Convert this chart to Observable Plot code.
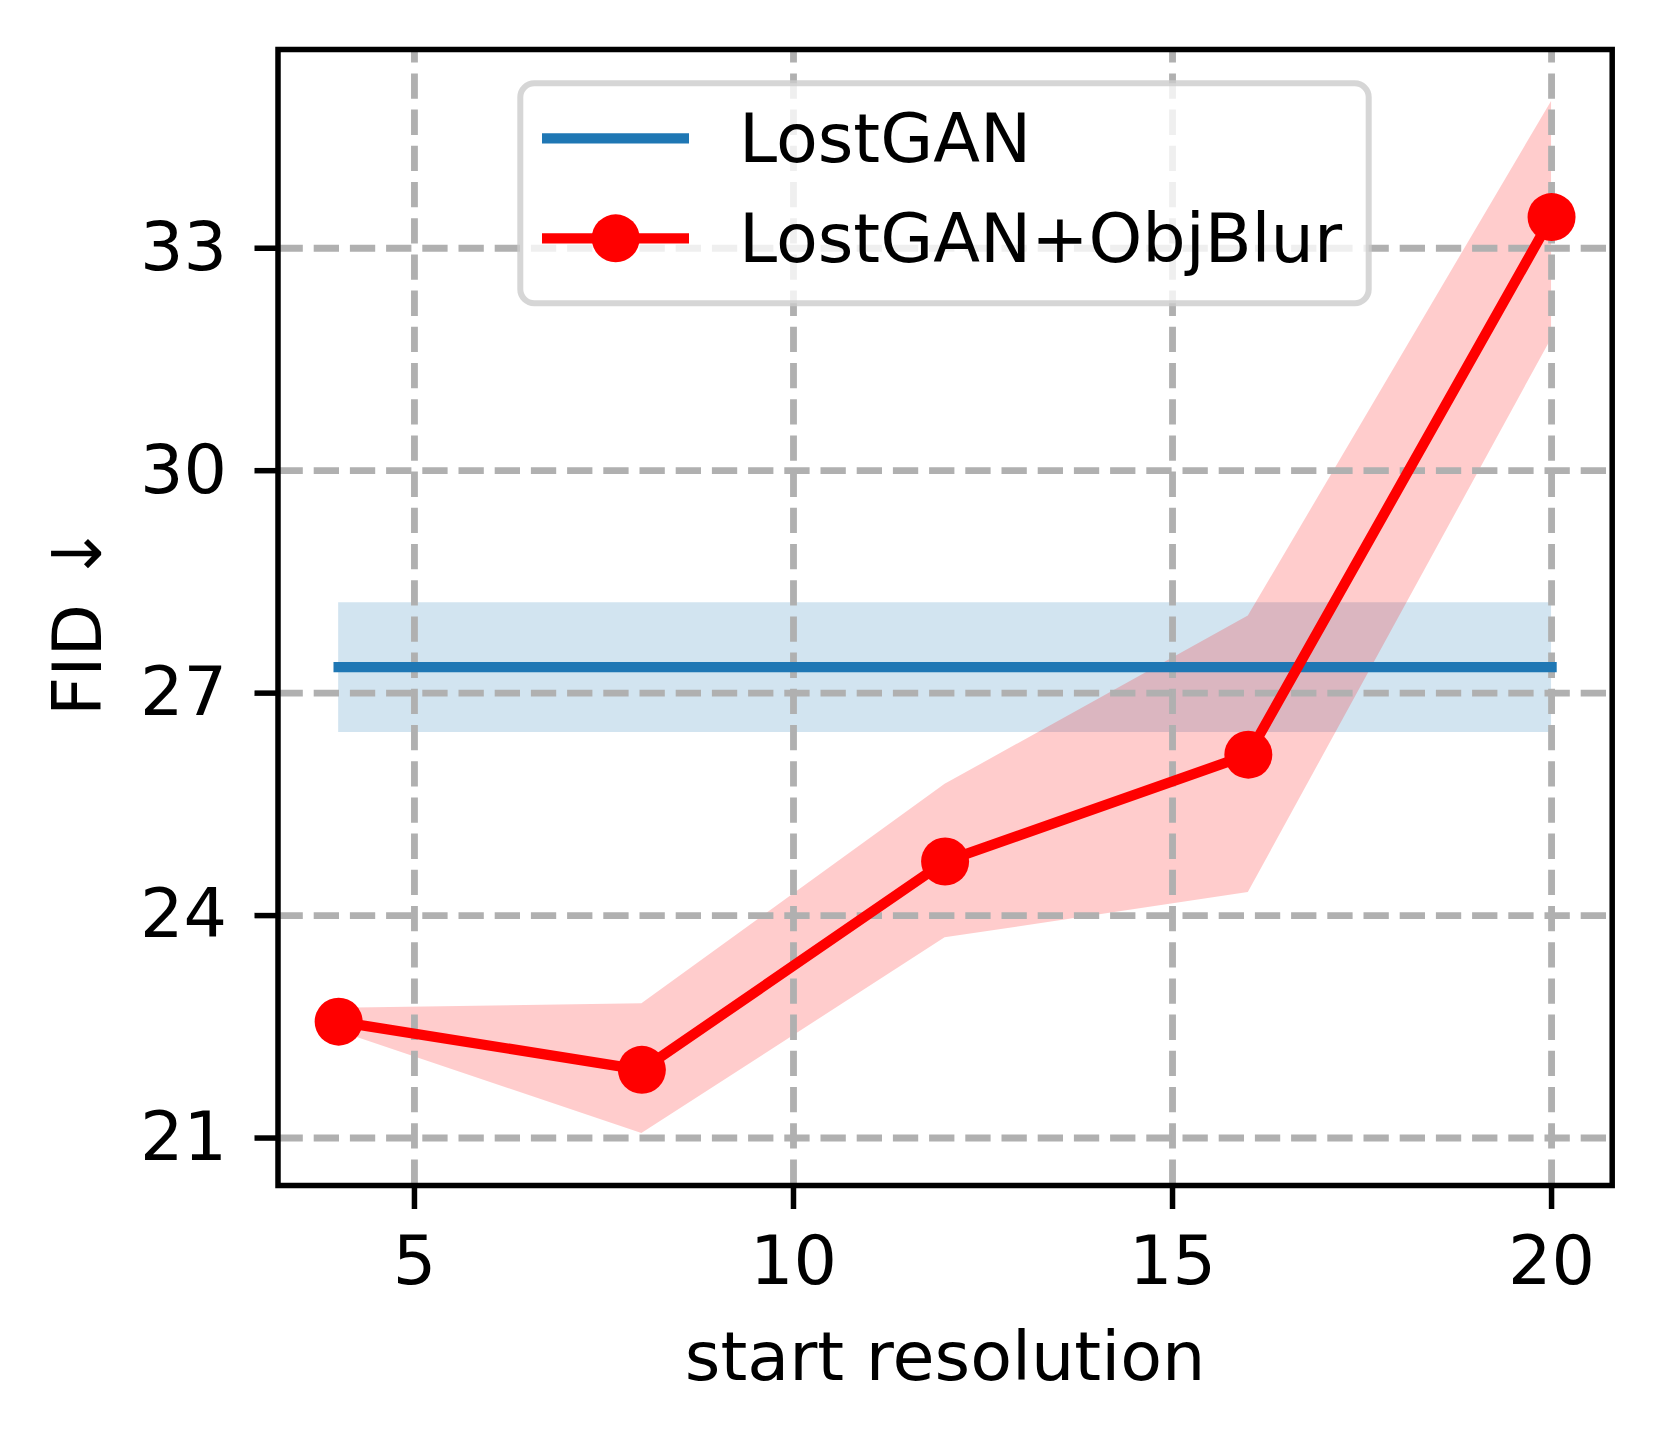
<!DOCTYPE html>
<html>
<head>
<meta charset="utf-8">
<script src="https://cdn.jsdelivr.net/npm/d3@7"></script>
<script src="https://cdn.jsdelivr.net/npm/@observablehq/plot@0.6"></script>
<style>
  html, body { margin: 0; padding: 0; background: white; }
  #chart svg { display: block; }
</style>
</head>
<body>
<div id="chart"></div>
<script>
// ---- data ----
const startResolution = [4, 8, 12, 16, 20];
const objBlurMean = [22.57, 21.92, 24.73, 26.17, 33.42];
const objBlurLow  = [22.44, 21.06, 23.70, 24.31, 31.78];
const objBlurHigh = [22.75, 22.81, 25.77, 28.04, 34.98];
const lostganMean = [27.35, 27.35, 27.35, 27.35, 27.35];
const lostganLow  = [26.47, 26.47, 26.47, 26.47, 26.47];
const lostganHigh = [28.22, 28.22, 28.22, 28.22, 28.22];
const xTicks = [5, 10, 15, 20];
const yTicks = [21, 24, 27, 30, 33];
const seriesNames = ["LostGAN", "LostGAN+ObjBlur"];
const seriesColors = ["#1f77b4", "#ff0000"];
const xLabel = "start resolution";
const yLabel = "FID ↓";

const objData = startResolution.map((x, i) => ({x, mean: objBlurMean[i], low: objBlurLow[i], high: objBlurHigh[i]}));
const lostData = startResolution.map((x, i) => ({x, mean: lostganMean[i], low: lostganLow[i], high: lostganHigh[i]}));

const FS = 68.4;
const gridStyle = {stroke: "#b0b0b0", strokeOpacity: 1, strokeWidth: 6.84, strokeDasharray: "25.3,10.9"};

const chart = Plot.plot({
  width: 1661,
  height: 1442,
  marginLeft: 277.5,
  marginRight: 49.3,
  marginTop: 49,
  marginBottom: 257,
  x: {domain: [3.2, 20.8]},
  y: {domain: [20.36, 35.68]},
  style: {fontFamily: "DejaVu Sans", fontSize: FS + "px", background: "white", color: "black"},
  marks: [
    Plot.areaY(lostData, {x: "x", y1: "low", y2: "high", fill: seriesColors[0], fillOpacity: 0.2}),
    Plot.areaY(objData, {x: "x", y1: "low", y2: "high", fill: seriesColors[1], fillOpacity: 0.2}),
    Plot.gridX(xTicks, {...gridStyle, strokeDashoffset: 11.8}),
    Plot.gridY(yTicks, {...gridStyle}),
    Plot.lineY(lostData, {x: "x", y: "mean", stroke: seriesColors[0], strokeWidth: 10.3, strokeLinecap: "square"}),
    Plot.lineY(objData, {x: "x", y: "mean", stroke: seriesColors[1], strokeWidth: 10.3, strokeLinejoin: "round"}),
    Plot.dot(objData, {x: "x", y: "mean", r: 24, fill: seriesColors[1], stroke: "none"}),
    Plot.frame({stroke: "black", strokeWidth: 5.5}),
    Plot.axisX(xTicks, {tickSize: 24, tickPadding: 26, strokeWidth: 5.5, fontSize: FS, label: null, tickFormat: d => String(d)}),
    Plot.axisY(yTicks, {tickSize: 23, tickPadding: 28, strokeWidth: 5.5, fontSize: FS, label: null, tickFormat: d => String(d)}),
    Plot.text([xLabel], {frameAnchor: "bottom", dy: 194, lineAnchor: "bottom", textAnchor: "middle", fontSize: FS, fill: "black"}),
    Plot.text([yLabel], {frameAnchor: "left", dx: -176.8, dy: 3, rotate: -90, lineAnchor: "bottom", textAnchor: "middle", fontSize: FS, fill: "black"})
  ]
});

document.getElementById("chart").appendChild(chart);

// ---- legend (upper center, matplotlib style) ----
const svg = d3.select(chart);
const lg = svg.append("g");
lg.append("rect")
  .attr("x", 520.3).attr("y", 83.3)
  .attr("width", 848.4).attr("height", 220)
  .attr("rx", 14).attr("ry", 14)
  .attr("fill", "white").attr("fill-opacity", 0.8)
  .attr("stroke", "#cccccc").attr("stroke-opacity", 0.8)
  .attr("stroke-width", 6);
const rowY = [138.3, 238.3];
seriesNames.forEach((name, i) => {
  lg.append("line")
    .attr("x1", 542).attr("x2", 689)
    .attr("y1", rowY[i]).attr("y2", rowY[i])
    .attr("stroke", seriesColors[i]).attr("stroke-width", 10.3);
  if (i === 1) {
    lg.append("circle").attr("cx", 615.7).attr("cy", rowY[i]).attr("r", 24).attr("fill", seriesColors[i]);
  }
  lg.append("text")
    .attr("x", 739).attr("y", rowY[i] + 23.8)
    .attr("text-anchor", "start")
    .attr("font-family", "DejaVu Sans").attr("font-size", FS)
    .attr("fill", "black")
    .text(name);
});
</script>
</body>
</html>
